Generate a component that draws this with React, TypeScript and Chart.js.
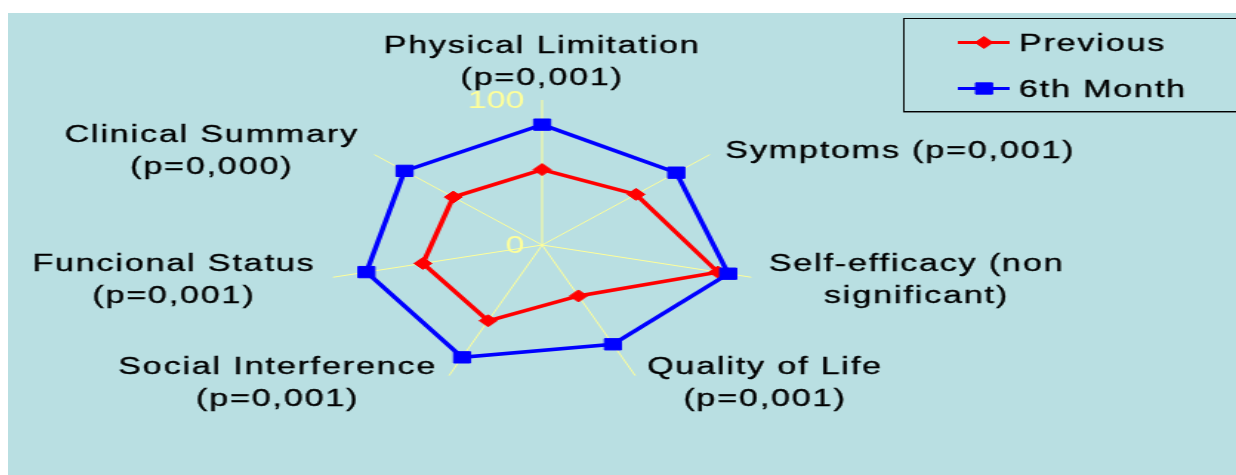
import React, { useEffect, useRef } from 'react';
import { Chart, registerables } from 'chart.js';

Chart.register(...registerables);

// ---- data ----
const categories: string[][] = [
  ['Physical Limitation', '(p=0,001)'],
  ['Symptoms (p=0,001)'],
  ['Self-efficacy (non', 'significant)'],
  ['Quality of Life', '(p=0,001)'],
  ['Social Interference', '(p=0,001)'],
  ['Funcional Status', '(p=0,001)'],
  ['Clinical Summary', '(p=0,000)'],
];
const seriesNames = ['Previous', '6th Month'];
const previousValues = [52, 56, 84, 39, 58, 57, 53];
const sixthMonthValues = [83, 80, 89, 76, 86, 84, 82];
const tickValues = [0, 100];

// ---- styling ----
const CANVAS_W = 830;
const CANVAS_H = 462;
const PANEL_W = 1228;
const STRETCH = PANEL_W / CANVAS_W;
const FONT = '"Liberation Sans", Arial, sans-serif';
const TEXT_SIZE = 23;
const LINE_H = 32;
const CAP_MID = 8.2;
const LABEL_PAD = 7;
const LABEL_GAP = 5;
const colors = ['#ff0000', '#0000ff'];
const pointStyles = ['rectRot', 'rect'];
const pointRadii = [6, 8];

function drawMarker(ctx: CanvasRenderingContext2D, style: string, x: number, y: number, r: number, color: string) {
  ctx.save();
  ctx.fillStyle = color;
  ctx.strokeStyle = color;
  ctx.lineWidth = 1;
  ctx.beginPath();
  if (style === 'rect') {
    const s = Math.SQRT1_2 * r;
    ctx.rect(x - s, y - s, 2 * s, 2 * s);
  } else {
    ctx.moveTo(x - r, y);
    ctx.lineTo(x, y - r);
    ctx.lineTo(x + r, y);
    ctx.lineTo(x, y + r);
    ctx.closePath();
  }
  ctx.fill();
  ctx.stroke();
  ctx.restore();
}

function drawText(ctx: CanvasRenderingContext2D, s: string, x: number, y: number) {
  ctx.fillText(s, x, y);
  ctx.strokeText(s, x, y);
}

const textPlugin = {
  id: 'excelRadarText',
  beforeDatasetsDraw(chart: any) {
    const scale = chart.scales.r;
    const ctx: CanvasRenderingContext2D = chart.ctx;
    ctx.save();
    ctx.font = `${TEXT_SIZE}px ${FONT}`;
    ctx.fillStyle = '#ffff99';
    ctx.textAlign = 'right';
    ctx.textBaseline = 'alphabetic';
    tickValues.forEach((v) => {
      const y = scale.yCenter - scale.getDistanceFromCenterForValue(v);
      ctx.fillText(String(v), scale.xCenter - 12, y + CAP_MID);
    });
    ctx.restore();
  },
  afterDraw(chart: any) {
    const scale = chart.scales.r;
    const ctx: CanvasRenderingContext2D = chart.ctx;
    ctx.save();
    ctx.font = `${TEXT_SIZE}px ${FONT}`;
    (ctx as any).letterSpacing = '1.25px';
    ctx.fillStyle = '#000000';
    ctx.strokeStyle = '#000000';
    ctx.lineWidth = 0.35;
    ctx.textBaseline = 'alphabetic';
    ctx.textAlign = 'center';

    // category labels around the web
    categories.forEach((lines, i) => {
      const pos = scale.getPointPosition(i, scale.drawingArea + LABEL_PAD);
      const deg = Math.round((scale.getIndexAngle(i) * 180) / Math.PI) % 360;
      const widths = lines.map((l) => ctx.measureText(l).width);
      const blockW = Math.max(...widths);
      const blockH = lines.length * LINE_H;
      let cx: number;
      if (deg === 0 || deg === 180) cx = pos.x;
      else if (deg < 180) cx = pos.x + LABEL_GAP + blockW / 2;
      else cx = pos.x - LABEL_GAP - blockW / 2;
      let top: number;
      if (deg === 0) top = pos.y - blockH;
      else if (deg === 180) top = pos.y;
      else top = pos.y - blockH / 2;
      lines.forEach((l, k) => {
        drawText(ctx, l, cx, top + LINE_H * (k + 0.5) + CAP_MID);
      });
    });

    // legend box
    ctx.lineWidth = 1;
    ctx.strokeStyle = '#000000';
    ctx.strokeRect(605.5, 5.5, 300, 93);
    ctx.strokeStyle = '#6b7b7d';
    ctx.beginPath();
    ctx.moveTo(605, 99.5);
    ctx.lineTo(CANVAS_W, 99.5);
    ctx.stroke();
    ctx.textAlign = 'left';
    seriesNames.forEach((name, i) => {
      const y = 29.5 + i * 46;
      ctx.strokeStyle = colors[i];
      ctx.lineWidth = 3;
      ctx.beginPath();
      ctx.moveTo(642, y);
      ctx.lineTo(677, y);
      ctx.stroke();
      drawMarker(ctx, pointStyles[i], 659.7, y, pointRadii[i], colors[i]);
      ctx.fillStyle = '#000000';
      ctx.strokeStyle = '#000000';
      ctx.lineWidth = 0.35;
      drawText(ctx, name, 683.3, y + CAP_MID);
    });
    ctx.restore();
  },
};

export default function App() {
  const ref = useRef<HTMLCanvasElement>(null);
  useEffect(() => {
    if (!ref.current) return;
    const chart = new Chart(ref.current, {
      type: 'radar',
      data: {
        labels: categories,
        datasets: [
          {
            label: seriesNames[0],
            data: previousValues,
            borderColor: colors[0],
            backgroundColor: colors[0],
            borderWidth: 3.5,
            pointStyle: pointStyles[0] as any,
            pointRadius: pointRadii[0],
            pointBorderWidth: 1,
            pointBackgroundColor: colors[0],
            pointBorderColor: colors[0],
            fill: false,
            order: 1,
          },
          {
            label: seriesNames[1],
            data: sixthMonthValues,
            borderColor: colors[1],
            backgroundColor: colors[1],
            borderWidth: 3.5,
            pointStyle: pointStyles[1] as any,
            pointRadius: pointRadii[1],
            pointBorderWidth: 1,
            pointBackgroundColor: colors[1],
            pointBorderColor: colors[1],
            fill: false,
            order: 0,
          },
        ],
      },
      options: {
        responsive: false,
        animation: false,
        devicePixelRatio: 1,
        layout: { padding: { left: 211, right: 319, top: 87, bottom: 85 } },
        plugins: { legend: { display: false }, tooltip: { enabled: false }, title: { display: false } },
        elements: { line: { tension: 0 } },
        scales: {
          r: {
            min: 0,
            max: 100,
            ticks: { display: false, stepSize: 100 },
            grid: { display: false },
            angleLines: { display: true, color: '#ffff99', lineWidth: 1 },
            pointLabels: { display: false },
          },
        },
      },
      plugins: [textPlugin],
    });
    return () => chart.destroy();
  }, []);

  return (
    <div
      style={{
        position: 'fixed',
        left: 8,
        top: 13,
        width: PANEL_W,
        height: CANVAS_H,
        background: '#b9dfe2',
        overflow: 'hidden',
      }}
    >
      <div style={{ width: CANVAS_W, height: CANVAS_H, transform: `scaleX(${STRETCH})`, transformOrigin: '0 0' }}>
        <canvas ref={ref} width={CANVAS_W} height={CANVAS_H} style={{ display: 'block' }} />
      </div>
    </div>
  );
}
